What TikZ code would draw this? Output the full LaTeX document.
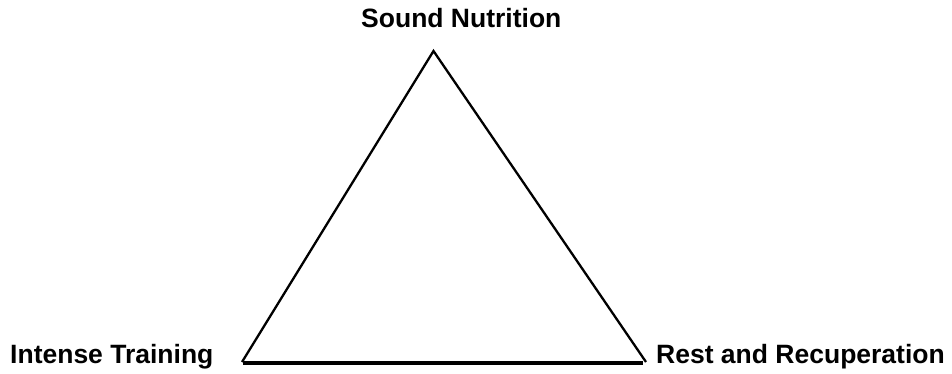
\documentclass[tikz,border=0pt]{standalone}
\usepackage{fontspec}
\setmainfont{Liberation Sans}
\begin{document}
\begin{tikzpicture}[x=1pt,y=-1pt,
  lbl/.style={font=\fontsize{26.5}{30}\selectfont\bfseries, inner sep=0pt, anchor=base west},
  side/.style={line width=2.3pt},
  base/.style={line width=3.4pt}]
\useasboundingbox (0,0) rectangle (952,374);
\coordinate (apex) at (433.5,51);
\coordinate (bl) at (242,362);
\coordinate (br) at (646,362);
\coordinate (bl2) at (243,363);
\coordinate (br2) at (643,363);
\draw[side, line join=miter] (bl) -- (apex) -- (br);
\draw[base] (bl2) -- (br2);
\node[lbl] (sn) at (361,28) {Sound Nutrition};
\node[lbl] (it) at (10,363) {Intense Training};
\node[lbl] (rr) at (656,363) {Rest and Recuperation};
\end{tikzpicture}
\end{document}
